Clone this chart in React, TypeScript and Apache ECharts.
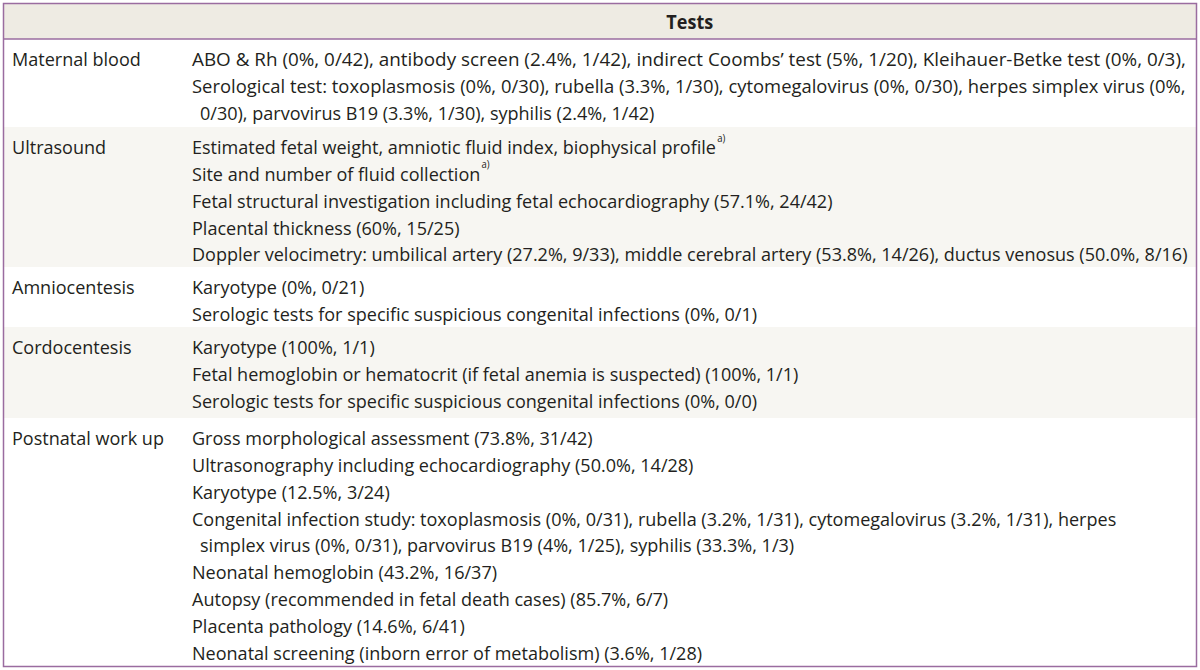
import React, { useEffect, useRef } from "react";
import * as echarts from "echarts";

const headerLabel = "Tests";
const categories = ["Maternal blood", "Ultrasound", "Amniocentesis", "Cordocentesis", "Postnatal work up"];

// Lines beginning with a space are wrapped continuation lines (drawn indented).
const maternalBloodTests = [
  "ABO & Rh (0%, 0/42), antibody screen (2.4%, 1/42), indirect Coombs\u2019 test (5%, 1/20), Kleihauer-Betke test (0%, 0/3),",
  "Serological test: toxoplasmosis (0%, 0/30), rubella (3.3%, 1/30), cytomegalovirus (0%, 0/30), herpes simplex virus (0%,",
  " 0/30), parvovirus B19 (3.3%, 1/30), syphilis (2.4%, 1/42)",
];
const ultrasoundTests = [
  "Estimated fetal weight, amniotic fluid index, biophysical profile{sup|a)}",
  "Site and number of fluid collection{sup|a)}",
  "Fetal structural investigation including fetal echocardiography (57.1%, 24/42)",
  "Placental thickness (60%, 15/25)",
  "Doppler velocimetry: umbilical artery (27.2%, 9/33), middle cerebral artery (53.8%, 14/26), ductus venosus (50.0%, 8/16)",
];
const amniocentesisTests = [
  "Karyotype (0%, 0/21)",
  "Serologic tests for specific suspicious congenital infections (0%, 0/1)",
];
const cordocentesisTests = [
  "Karyotype (100%, 1/1)",
  "Fetal hemoglobin or hematocrit (if fetal anemia is suspected) (100%, 1/1)",
  "Serologic tests for specific suspicious congenital infections (0%, 0/0)",
];
const postnatalTests = [
  "Gross morphological assessment (73.8%, 31/42)",
  "Ultrasonography including echocardiography (50.0%, 14/28)",
  "Karyotype (12.5%, 3/24)",
  "Congenital infection study: toxoplasmosis (0%, 0/31), rubella (3.2%, 1/31), cytomegalovirus (3.2%, 1/31), herpes",
  " simplex virus (0%, 0/31), parvovirus B19 (4%, 1/25), syphilis (33.3%, 1/3)",
  "Neonatal hemoglobin (43.2%, 16/37)",
  "Autopsy (recommended in fetal death cases) (85.7%, 6/7)",
  "Placenta pathology (14.6%, 6/41)",
  "Neonatal screening (inborn error of metabolism) (3.6%, 1/28)",
];
const testsByRow = [maternalBloodTests, ultrasoundTests, amniocentesisTests, cordocentesisTests, postnatalTests];

// ---- Layout / style ----
const W = 1200;
const H = 670;
const BORDER = "#9a6ca0";
const HEADER_FILL = "#eeebe3";
const ALT_FILL = "#f7f6f2";
const TEXT = "#231f20";
const FONT = "'Open Sans', 'Noto Sans', sans-serif";
const FS = 19;
const SX = 0.95;
const LEFT = 3.5;
const RIGHT = 1196.5;
const TOP = 3.5;
const BOTTOM = 666.5;
const HEADER_BOTTOM = 39;
const ROW_BOUNDS = [39, 127, 267, 327, 418, BOTTOM];
const LINE_H = 26.8;
const FIRST_OFFSET = 19.5;
const COL1_X = 12;
const COL2_X = 192;
const INDENT = 8;
const JUSTIFY_RIGHT = 1186;
// wrapped lines that are set justified in the reference (row index -> line indices)
const JUSTIFIED: Record<number, number[]> = { 0: [0, 1] };

let measureCtx: CanvasRenderingContext2D | null = null;
function measure(text: string) {
  if (!measureCtx) measureCtx = document.createElement("canvas").getContext("2d");
  if (!measureCtx) return 0;
  measureCtx.font = `${FS}px ${FONT}`;
  return measureCtx.measureText(text).width;
}

function buildGraphic() {
  const els: any[] = [];
  els.push({
    type: "rect",
    shape: { x: LEFT, y: TOP, width: RIGHT - LEFT, height: HEADER_BOTTOM - TOP },
    style: { fill: HEADER_FILL },
    silent: true,
  });
  categories.forEach((_, i) => {
    els.push({
      type: "rect",
      shape: { x: LEFT, y: ROW_BOUNDS[i], width: RIGHT - LEFT, height: ROW_BOUNDS[i + 1] - ROW_BOUNDS[i] },
      style: { fill: i % 2 === 1 ? ALT_FILL : "#ffffff" },
      silent: true,
    });
  });
  els.push({
    type: "line",
    shape: { x1: LEFT, y1: HEADER_BOTTOM, x2: RIGHT, y2: HEADER_BOTTOM },
    style: { stroke: BORDER, lineWidth: 1.5 },
    silent: true,
  });
  els.push({
    type: "rect",
    shape: { x: LEFT, y: TOP, width: RIGHT - LEFT, height: BOTTOM - TOP },
    style: { fill: "none", stroke: BORDER, lineWidth: 1.5 },
    silent: true,
  });
  els.push({
    type: "text",
    x: (COL2_X - 9 + RIGHT) / 2,
    y: (TOP + HEADER_BOTTOM) / 2 + 0.5,
    scaleX: SX,
    style: {
      text: headerLabel,
      fontFamily: FONT,
      fontSize: FS,
      fontWeight: "bold",
      fill: TEXT,
      align: "center",
      verticalAlign: "middle",
    },
    silent: true,
  });
  const rich = {
    sup: { fontSize: 10, fontFamily: FONT, fill: TEXT, verticalAlign: "top", lineHeight: 19, padding: [0, 0, 0, 1] },
  };
  categories.forEach((cat, i) => {
    const top = ROW_BOUNDS[i];
    els.push({
      type: "text",
      x: COL1_X,
      y: top + FIRST_OFFSET,
      scaleX: SX,
      style: {
        text: cat,
        fontFamily: FONT,
        fontSize: FS,
        fill: TEXT,
        align: "left",
        verticalAlign: "middle",
        lineHeight: LINE_H,
      },
      silent: true,
    });
    testsByRow[i].forEach((line, j) => {
      const cont = line.startsWith(" ");
      const text = cont ? line.trim() : line;
      const x = COL2_X + (cont ? INDENT : 0);
      let sx = SX;
      if (JUSTIFIED[i] && JUSTIFIED[i].includes(j)) {
        const w = measure(text);
        if (w > 0) sx = (JUSTIFY_RIGHT - x) / w;
      }
      els.push({
        type: "text",
        x,
        y: top + FIRST_OFFSET + j * LINE_H,
        scaleX: sx,
        style: {
          text,
          fontFamily: FONT,
          fontSize: FS,
          fill: TEXT,
          align: "left",
          verticalAlign: "middle",
          lineHeight: LINE_H,
          rich,
        },
        silent: true,
      });
    });
  });
  return els;
}

export default function App() {
  const ref = useRef<HTMLDivElement>(null);
  useEffect(() => {
    document.body.style.margin = "0";
    const chart = echarts.init(ref.current!, null, { renderer: "svg", width: W, height: H });
    chart.setOption({
      animation: false,
      backgroundColor: "#ffffff",
      graphic: { elements: buildGraphic() },
    });
    return () => chart.dispose();
  }, []);
  return <div ref={ref} style={{ position: "fixed", left: 0, top: 0, width: W, height: H }} />;
}
